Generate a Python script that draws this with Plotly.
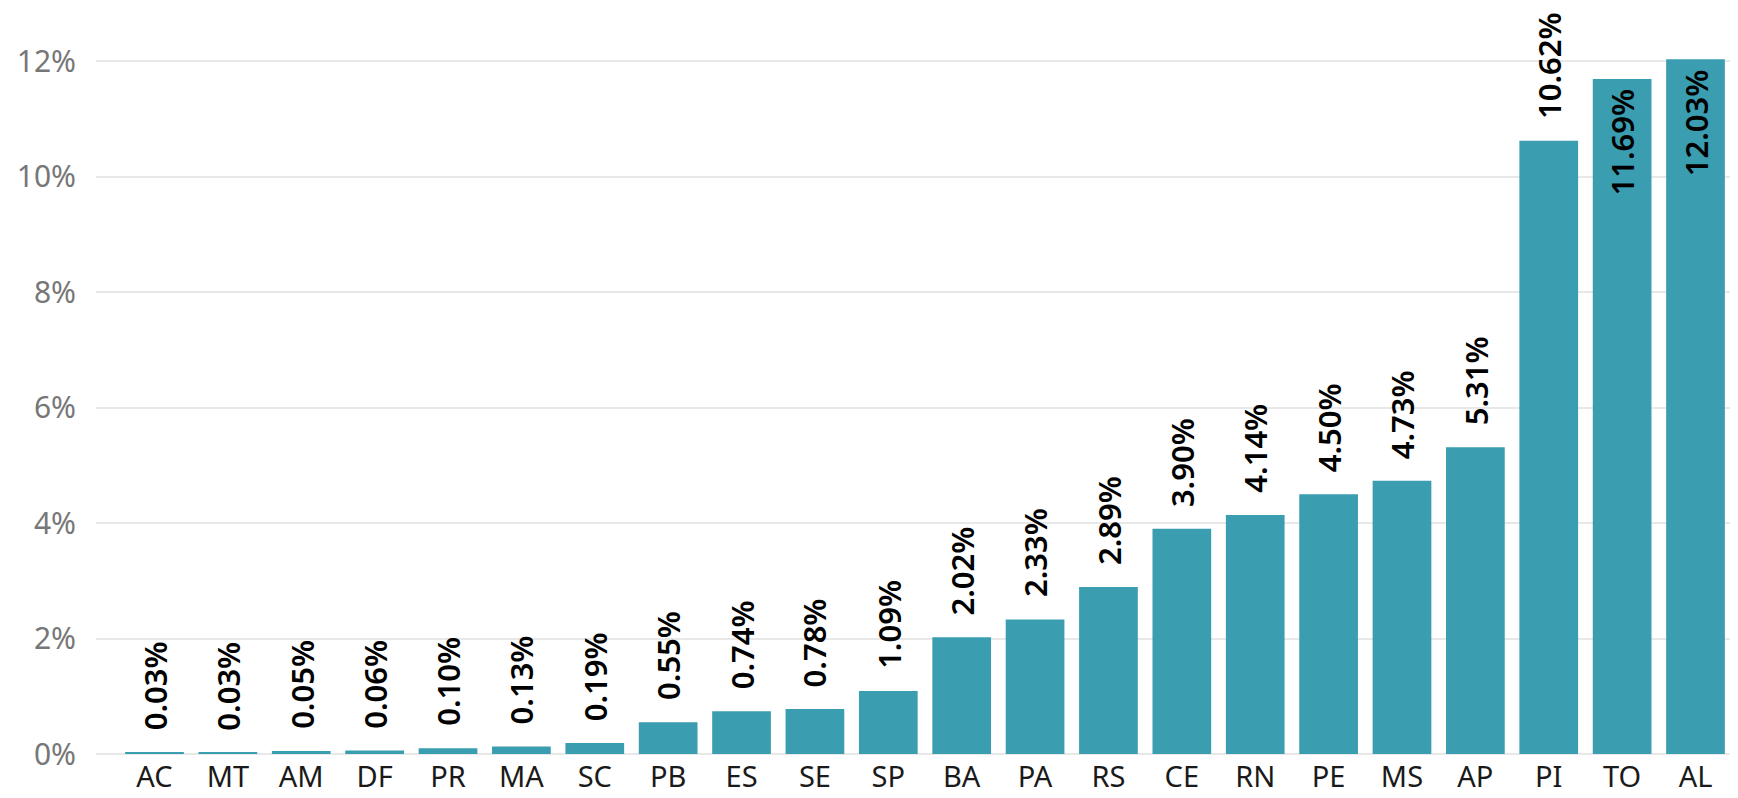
import plotly.graph_objects as go

# 주(州)별 비율 데이터
states = ["AC", "MT", "AM", "DF", "PR", "MA", "SC", "PB", "ES", "SE", "SP",
          "BA", "PA", "RS", "CE", "RN", "PE", "MS", "AP", "PI", "TO", "AL"]
values = [0.03, 0.03, 0.05, 0.06, 0.10, 0.13, 0.19, 0.55, 0.74, 0.78, 1.09,
          2.02, 2.33, 2.89, 3.90, 4.14, 4.50, 4.73, 5.31, 10.62, 11.69, 12.03]
y_ticks = [0, 2, 4, 6, 8, 10, 12]
y_tick_labels = ["0%", "2%", "4%", "6%", "8%", "10%", "12%"]

bar_color = "#3a9db0"
font_family = "Noto Sans, Open Sans, sans-serif"

fig = go.Figure(go.Bar(
    x=states,
    y=values,
    marker=dict(color=bar_color, line=dict(width=0)),
    hovertemplate="%{x}: %{y:.2f}%<extra></extra>",
))

# 데이터 레이블 (상위 두 막대는 막대 안쪽 위에)
for s, v in zip(states, values):
    inside = v > 11
    fig.add_annotation(
        x=s,
        y=v,
        text=f"{v:.2f}%",
        textangle=-90,
        showarrow=False,
        xanchor="center",
        yanchor="top" if inside else "bottom",
        yshift=-8 if inside else 20,
        font=dict(size=31, color="#000000", family=font_family, weight=600),
    )

# 페이지 body 여백(8px)을 감안한 크기
fig.update_layout(
    width=1730,
    height=790,
    margin=dict(l=88, r=0, t=0, b=44),
    paper_bgcolor="white",
    plot_bgcolor="white",
    bargap=0.2,
    showlegend=False,
    font=dict(family=font_family),
    xaxis=dict(
        range=[-0.797, 21.579],
        automargin=False,
        showgrid=False,
        zeroline=False,
        showline=False,
        ticks="",
        tickfont=dict(size=29, color="#1a1a1a"),
        ticklabelstandoff=3,
    ),
    yaxis=dict(
        range=[0, 12.918],
        automargin=False,
        tickvals=y_ticks,
        ticktext=y_tick_labels,
        showgrid=True,
        gridcolor="#e8e8e8",
        gridwidth=2,
        zeroline=True,
        zerolinecolor="#e8e8e8",
        zerolinewidth=2,
        showline=False,
        ticks="",
        tickfont=dict(size=30, color="#777777"),
        ticklabelstandoff=19,
    ),
)

fig.write_html("out.html")
